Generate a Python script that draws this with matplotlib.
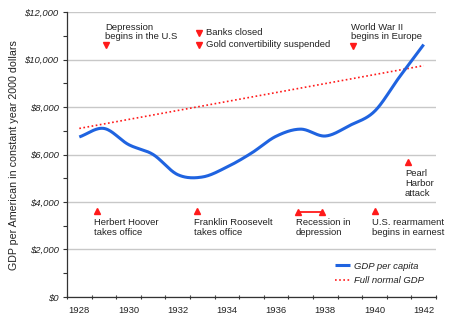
import numpy as np
import matplotlib
matplotlib.use("Agg")
import matplotlib.pyplot as plt

plt.rcParams['font.family'] = ['Liberation Sans', 'DejaVu Sans']

# Real GDP per capita (constant 2000 dollars), one value per calendar year
years = [1928, 1929, 1930, 1931, 1932, 1933, 1934, 1935,
         1936, 1937, 1938, 1939, 1940, 1941, 1942]
gdp_per_capita = [6740, 7100, 6420, 6000, 5150, 5050, 5470, 6060,
                  6770, 7070, 6780, 7230, 7820, 9250, 10640]

# Trend of "full normal" GDP per capita (straight line between the end years)
trend_years = [1928, 1942]
full_normal_gdp = [7100, 9750]

# Events drawn above the curve (downward markers)
top_event_labels = ["Depression\nbegins in the U.S", "Banks closed",
                    "Gold convertibility suspended", "World War II\nbegins in Europe"]
top_event_dates = [1929.60, 1933.37, 1933.37, 1939.61]
top_event_levels = [10600, 11130, 10630, 10570]

# Events drawn below the curve (upward markers)
bottom_event_labels = ["Herbert Hoover\ntakes office", "Franklin Roosevelt\ntakes office",
                       "U.S. rearmament\nbegins in earnest", "Pearl\nHarbor\nattack"]
bottom_event_dates = [1929.21, 1933.28, 1940.52, 1941.86]
bottom_event_levels = [3610, 3610, 3610, 5670]

# Recession inside the depression (start and end)
recession_label = "Recession in\ndepression"
recession_dates = [1937.38, 1938.38]
recession_level = 3590

tick_years = [1928, 1930, 1932, 1934, 1936, 1938, 1940, 1942]


def catmull_rom(x, y, n=30):
    """Smooth curve through the given points (uniform Catmull-Rom spline)."""
    x = np.asarray(x, float)
    y = np.asarray(y, float)
    px = np.concatenate([[2 * x[0] - x[1]], x, [2 * x[-1] - x[-2]]])
    py = np.concatenate([[2 * y[0] - y[1]], y, [2 * y[-1] - y[-2]]])
    xs, ys = [], []
    t = np.linspace(0, 1, n, endpoint=False)
    for i in range(1, len(px) - 2):
        for arr, out in ((px, xs), (py, ys)):
            p0, p1, p2, p3 = arr[i - 1], arr[i], arr[i + 1], arr[i + 2]
            out.append(0.5 * ((2 * p1) + (-p0 + p2) * t
                              + (2 * p0 - 5 * p1 + 4 * p2 - p3) * t ** 2
                              + (-p0 + 3 * p1 - 3 * p2 + p3) * t ** 3))
    xs.append([x[-1]])
    ys.append([y[-1]])
    return np.concatenate(xs), np.concatenate(ys)


W, H = 450, 322
fig = plt.figure(figsize=(W / 100, H / 100), dpi=100)
left, right, bottom, top = 67, 436, 296.7, 12.3
ax = fig.add_axes([left / W, 1 - bottom / H, (right - left) / W, (bottom - top) / H])

text_color = '#222222'
axis_color = '#333333'
red = '#ff1a1a'
blue = '#1f63e0'
fs_text = 6.8
ls_text = 1.1

ax.set_xlim(1928, 1943)
ax.set_ylim(0, 12000)

# Axes styling
for side in ('top', 'right'):
    ax.spines[side].set_visible(False)
for side in ('left', 'bottom'):
    ax.spines[side].set_color(axis_color)
    ax.spines[side].set_linewidth(0.9)

ax.set_yticks(np.arange(0, 12001, 2000))
ax.set_yticks(np.arange(1000, 12000, 2000), minor=True)
ax.set_yticklabels([f"${v:,.0f}" for v in np.arange(0, 12001, 2000)],
                   fontsize=6.8, style='italic', color=text_color)
ax.tick_params(axis='y', which='both', direction='out', length=3, width=0.8,
               color=axis_color, pad=3)
ax.yaxis.grid(True, color='#c8c8c8', linewidth=1.0)
ax.set_axisbelow(True)

# Year ticks at year boundaries, labels centred in each year band
ax.set_xticks(np.arange(1928, 1944))
ax.set_xticklabels([])
ax.tick_params(axis='x', which='major', direction='inout', length=2.5, width=0.8,
               color=axis_color)
ax.set_xticks([y + 0.5 for y in tick_years], minor=True)
ax.set_xticklabels([str(y) for y in tick_years], minor=True, fontsize=6.8,
                   color=text_color)
ax.tick_params(axis='x', which='minor', length=0, pad=7)

# Data series
xc = np.array(years) + 0.5
sx, sy = catmull_rom(xc, gdp_per_capita)
ax.plot(sx, sy, color=blue, linewidth=2.2, solid_capstyle='butt',
        label='GDP per capita', zorder=3)
ax.plot(np.array(trend_years) + 0.5, full_normal_gdp, color=red, linewidth=1.2,
        linestyle=(0, (1, 1.5)), label='Full normal GDP', zorder=2)

# Event markers and notes
ms = 4
for lab, d, lv in zip(top_event_labels, top_event_dates, top_event_levels):
    ax.plot([d], [lv], marker='v', color=red, markersize=ms, linestyle='none', zorder=4)
    if '\n' in lab:
        ax.text(d - 0.06, 11560, lab, fontsize=fs_text, color=text_color,
                ha='left', va='top', linespacing=ls_text)
    else:
        ax.text(d + 0.28, lv, lab, fontsize=fs_text, color=text_color,
                ha='left', va='center')

for lab, d, lv in zip(bottom_event_labels, bottom_event_dates, bottom_event_levels):
    ax.plot([d], [lv], marker='^', color=red, markersize=ms, linestyle='none', zorder=4)
    ax.text(d - 0.12, lv - 300, lab, fontsize=fs_text, color=text_color,
            ha='left', va='top', linespacing=ls_text)

ax.plot(recession_dates, [recession_level] * 2, color=red, linewidth=1.3,
        marker='^', markersize=ms, zorder=4)
ax.text(recession_dates[0] - 0.07, recession_level - 280, recession_label,
        fontsize=fs_text, color=text_color, ha='left', va='top', linespacing=ls_text)

leg = ax.legend(loc='upper left', bbox_to_anchor=(0.713, 0.14), frameon=False,
                borderpad=0, handlelength=1.6, handletextpad=0.45,
                labelspacing=0.6, prop={'size': 6.8, 'style': 'italic'})
for t in leg.get_texts():
    t.set_color(text_color)

fig.text(14 / W, 1 - 155 / H, "GDP per American in constant year 2000 dollars",
         rotation=90, ha='center', va='center', fontsize=7.7, color=text_color)

fig.savefig('out.png', dpi=100)
